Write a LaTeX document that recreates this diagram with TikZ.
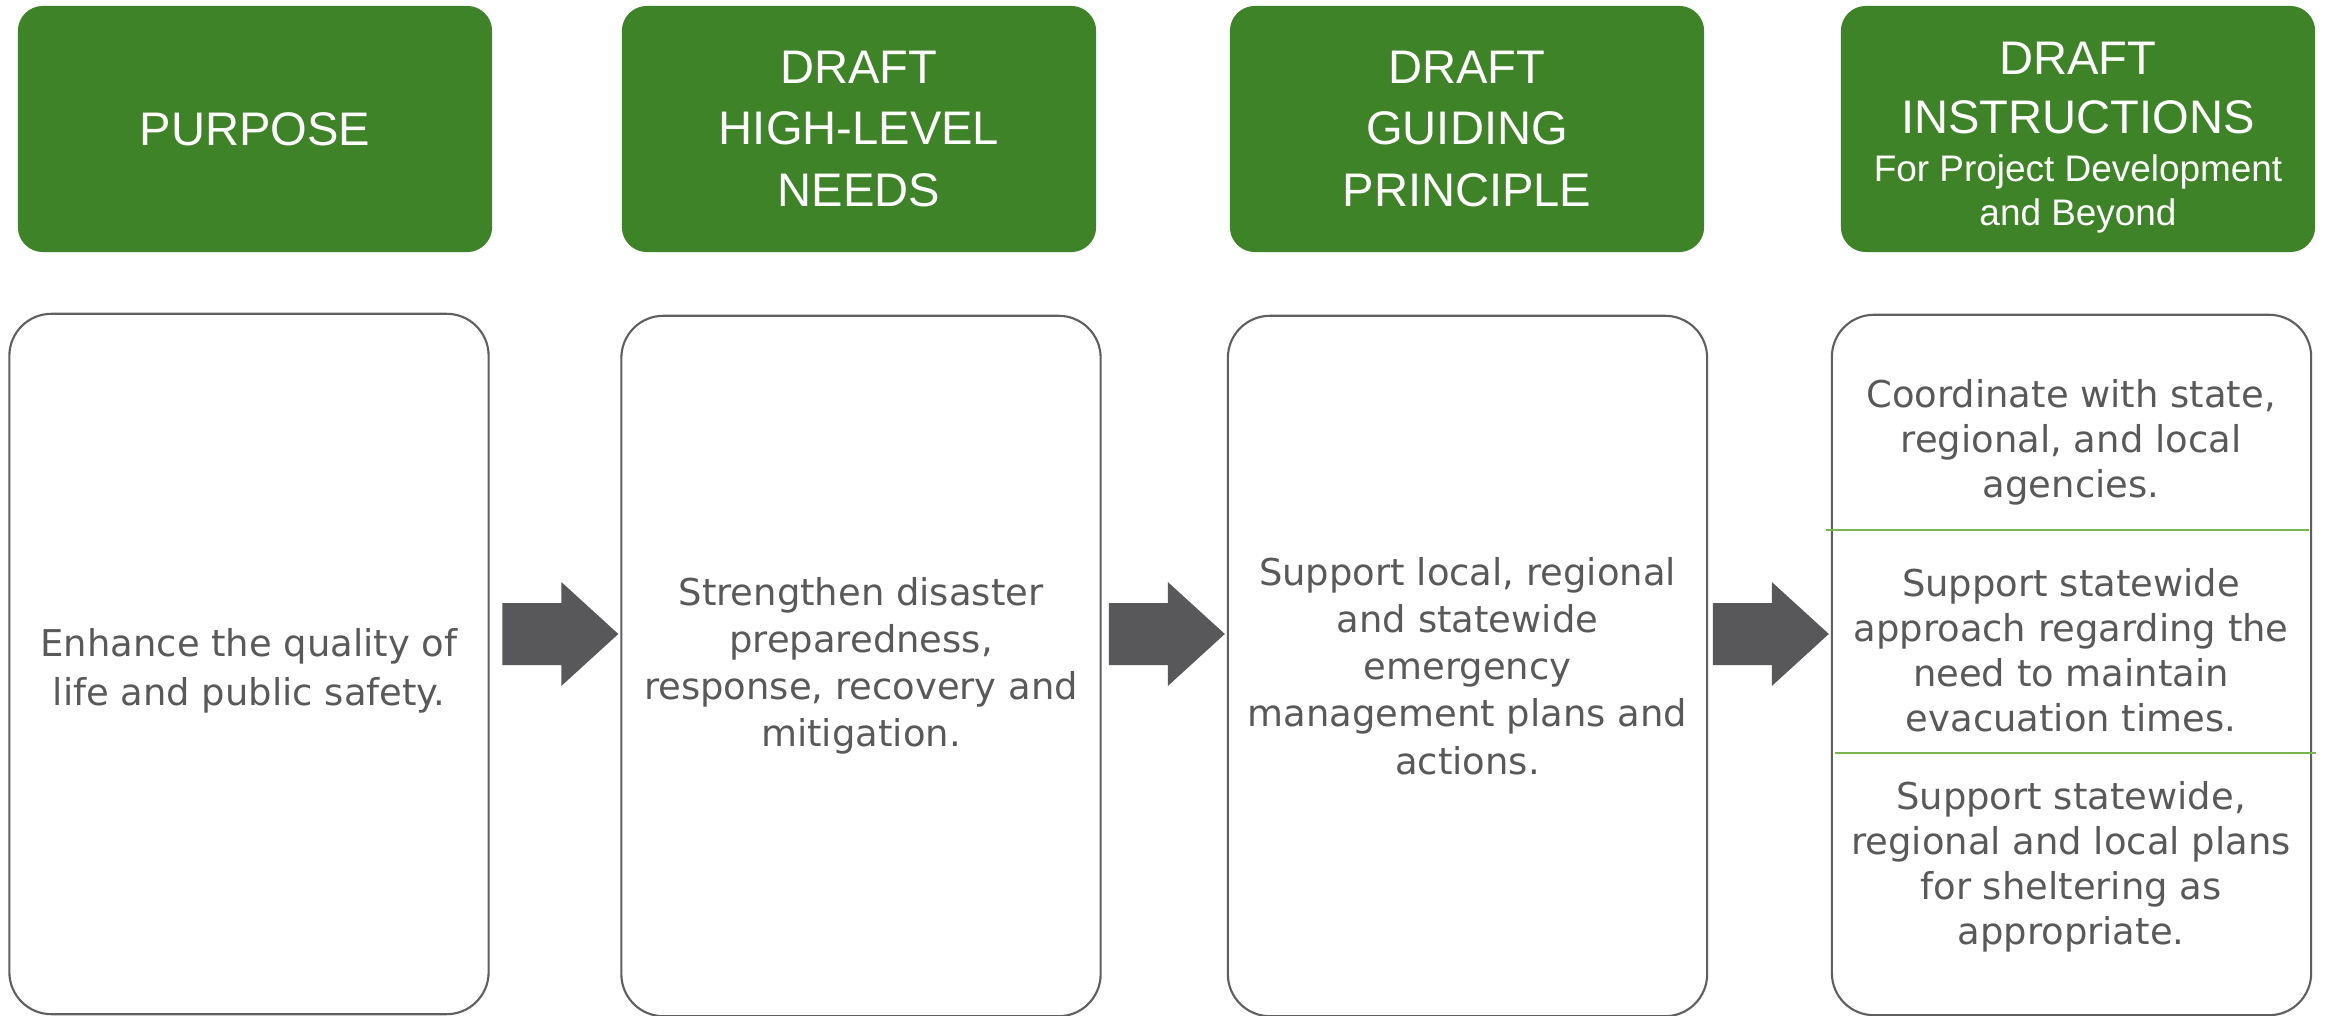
\documentclass[tikz,border=0pt]{standalone}
\usepackage{fontspec}
\setmainfont{DejaVu Sans}
\newfontfamily\hdrfont{Liberation Sans}
\newcommand\subhdr{\fontsize{10.5}{12.8}\selectfont}
\definecolor{hdrgreen}{RGB}{62,131,39}
\definecolor{txtgray}{RGB}{89,89,89}
\definecolor{boxgray}{RGB}{95,95,95}
\definecolor{arrgray}{RGB}{88,88,90}
\definecolor{rulegreen}{RGB}{120,180,80}
\begin{document}
\begin{tikzpicture}[x=0.01cm, y=-0.01cm,
    head/.style={fill=hdrgreen, rounded corners=0.25cm, minimum width=4.74cm, minimum height=2.46cm,
        text=white, align=center, inner sep=0pt, font=\hdrfont\fontsize{13.4}{17.4}\selectfont},
    body/.style={draw=boxgray, fill=white, line width=0.6pt, rounded corners=0.42cm, minimum width=4.79cm,
        minimum height=7cm, text=txtgray, align=center, inner sep=0pt, font=\fontsize{10.5}{13.4}\selectfont},
    part/.style={text=txtgray, align=center, inner sep=0pt, font=\fontsize{10.5}{12.8}\selectfont}]
    \fill[white] (0,0) rectangle (2328,1016);
    \useasboundingbox (0,0) rectangle (2328,1016);

    \node[head] (h1) at (255,129) {PURPOSE};
    \node[head] (h2) at (859,129) {DRAFT\\HIGH-LEVEL\\NEEDS};
    \node[head] (h3) at (1467,129) {DRAFT\\GUIDING\\PRINCIPLE};
    \node[head] (h4) at (2078,129) {\rule{0pt}{14.2pt}DRAFT\\[-0.8pt]INSTRUCTIONS\\[-3.7pt]\subhdr For Project Development\\[-4.8pt]\subhdr and Beyond};

    \node[body] (w1) at (249,664) {\rule{0pt}{12pt}Enhance the quality of\\[0.6pt]life and public safety.};
    \node[body] (w2) at (861,666) {Strengthen disaster\\preparedness,\\response, recovery and\\mitigation.};
    \node[body] (w3) at (1467.5,666) {Support local, regional\\and statewide\\emergency\\management plans and\\actions.};
    \node[body] (w4) at (2071.5,665) {};

    \node[part] (s1) at (2071,442) {Coordinate with state,\\regional, and local\\agencies.};
    \node[part] (s2) at (2071,650) {Support statewide\\approach regarding the\\need to maintain\\evacuation times.};
    \node[part] (s3) at (2071,867) {Support statewide,\\regional and local plans\\for sheltering as\\appropriate.};
    \draw[rulegreen, line width=0.4pt] (1826,530) -- (2309,530);
    \draw[rulegreen, line width=0.4pt] (1835,753) -- (2316,753);

    \foreach \b in {w2,w3,w4}
        \fill[arrgray] (\b.west |- 0,634) ++(-118,-31) -- ++(59,0) -- ++(0,-21) -- ++(57,52)
            -- ++(-57,52) -- ++(0,-21) -- ++(-59,0) -- cycle;
\end{tikzpicture}
\end{document}
